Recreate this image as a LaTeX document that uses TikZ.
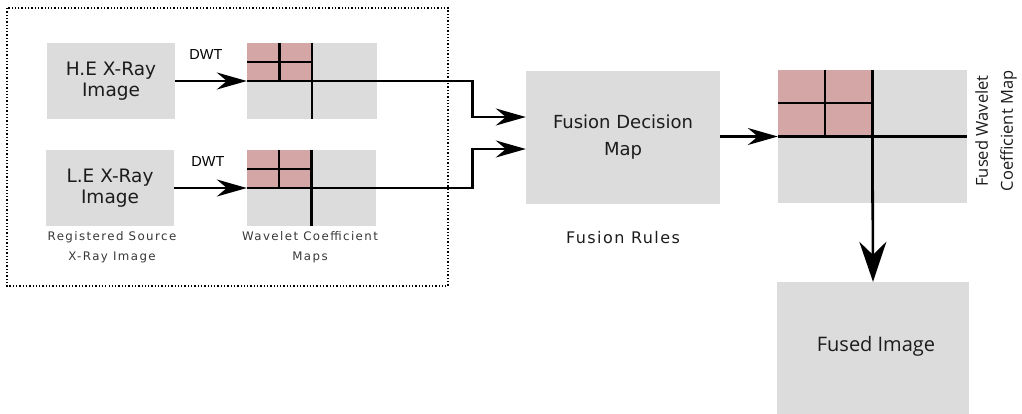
\documentclass[tikz,border=0pt]{standalone}
\usepackage{fontspec}
\setmainfont{DejaVu Sans}
\newfontfamily\labelfont[LetterSpace=12]{DejaVu Sans}
\newfontfamily\rulesfont[LetterSpace=9]{DejaVu Sans}
\newfontfamily\dwtfont{Liberation Sans}
\newfontfamily\sidefont{Open Sans}
\usetikzlibrary{arrows.meta,calc}
\definecolor{boxgray}{RGB}{220,220,220}
\definecolor{coefpink}{RGB}{212,166,166}
\definecolor{boxtext}{RGB}{28,28,28}
\definecolor{captext}{RGB}{55,55,55}
\tikzset{
  imgbox/.style={fill=boxgray, draw=none, inner sep=0pt, text=boxtext,
    align=center, font=\fontsize{18.5}{20.5}\selectfont},
  mapbox/.style={fill=boxgray, draw=none, inner sep=0pt},
  grid/.style={line width=2.6pt, black},
  conn/.style={line width=2.6pt, black},
  arr/.style={conn, -{Stealth[length=30pt,width=17pt,inset=10pt]}},
  bigarr/.style={conn, -{Stealth[length=40pt,width=27pt,inset=13pt]}},
  caption/.style={text=captext, font=\labelfont\fontsize{11.8}{20}\selectfont, align=center, inner sep=0pt},
  dwt/.style={font=\dwtfont\fontsize{14.5}{16}\selectfont, inner sep=0pt},
}
% quadrant pattern of a coefficient map: shaded approximation band split once more
\newcommand{\coefmap}[1]{%
  \fill[coefpink] (#1.north west) rectangle (#1.center);
  \draw[grid] (#1.north) -- (#1.south);
  \draw[grid] (#1.west) -- (#1.east);
  \draw[grid] ($(#1.north west)!0.5!(#1.north)$) -- ($(#1.west)!0.5!(#1.center)$);
  \draw[grid] ($(#1.north west)!0.5!(#1.west)$) -- ($(#1.north)!0.5!(#1.center)$);
}
\begin{document}
\begin{tikzpicture}[x=1pt,y=-1pt]
\useasboundingbox (0,0) rectangle (1022,413);

% source stage frame
\draw[dotted, line width=1.3pt] (7,8) rectangle (448,286);

% source images
\node[imgbox, minimum width=128pt, minimum height=76pt] (he) at (111,81) {H.E X-Ray\\Image};
\node[imgbox, minimum width=128pt, minimum height=76pt] (le) at (110,188) {L.E X-Ray\\Image};

% wavelet coefficient maps
\node[mapbox, minimum width=130pt, minimum height=76pt] (w1) at (312,81) {};
\node[mapbox, minimum width=129pt, minimum height=76pt] (w2) at (311.5,188) {};
\coefmap{w1}
\coefmap{w2}

% fusion stage
\node[imgbox, minimum width=194pt, minimum height=133pt, font=\fontsize{18}{27}\selectfont] (fdm) at (623,137.5) {Fusion Decision\\Map};
\node[mapbox, minimum width=189pt, minimum height=133pt] (fm) at (872.5,136.5) {};
\coefmap{fm}
\node[mapbox, minimum width=192pt, minimum height=140pt] (fi) at (873,352) {};
\node[text=boxtext, font=\sidefont\fontsize{20}{22}\selectfont, inner sep=0pt, anchor=base] (fitext) at (876,351) {Fused Image};

% captions
\node[caption] (capsrc) at (112,247) {Registered Source\\X-Ray Image};
\node[caption] (capwav) at (310,247) {Wavelet Coefficient\\Maps};
\node[text=boxtext, font=\rulesfont\fontsize{16}{18}\selectfont, inner sep=0pt, anchor=base] (caprules) at (623,243) {Fusion Rules};
\node[rotate=90, text=boxtext, font=\sidefont\fontsize{16.5}{25}\selectfont, align=center, inner sep=0pt] (capfm) at (996,131) {Fused Wavelet\\Coefficient Map};
\node[dwt] (dwt1) at (206,55) {DWT};
\node[dwt] (dwt2) at (208,162) {DWT};

% connectors
\draw[arr] (he.east) -- (w1.west);
\draw[arr] (le.east) -- (w2.west);
\draw[arr] (w1.east) -- ++(95,0) |- ([yshift=20.5pt]fdm.west);
\draw[arr] (w2.east) -- ++(96,0) |- ([yshift=-11.5pt]fdm.west);
\draw[arr] (fdm.east |- fm.west) -- (fm.west);
\draw[bigarr] (fm.center) -- (fi.north);
\end{tikzpicture}
\end{document}
